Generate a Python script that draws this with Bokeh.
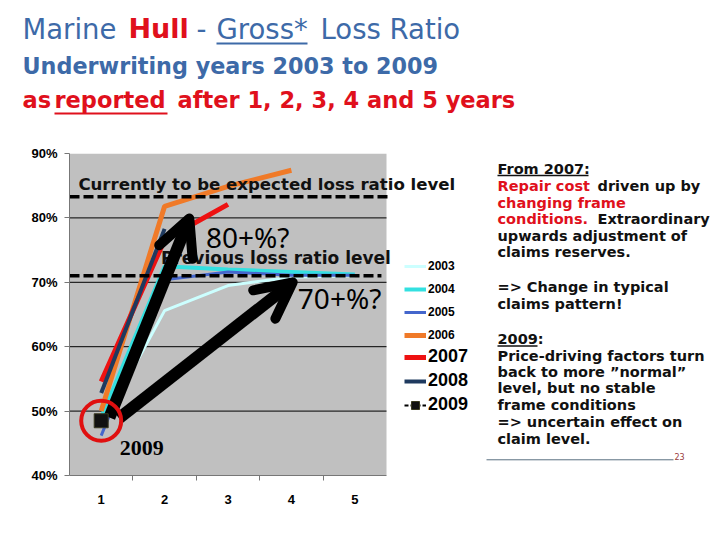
from bokeh.plotting import figure
from bokeh.layouts import column, row
from bokeh.models import (FixedTicker, PrintfTickFormatter, Label, Arrow, OpenHead,
                          Legend, LegendItem, BoxAnnotation)
from bokeh.core.properties import value
from bokeh.embed import file_html
from bokeh.resources import INLINE

# ---------------- data ----------------
dev_years = [1, 2, 3, 4, 5]
x_tick_labels = ["1", "2", "3", "4", "5"]
y_ticks = [40, 50, 60, 70, 80, 90]
grid_levels = [50, 60, 70, 80]
uw_years = ["2003", "2004", "2005", "2006", "2007", "2008", "2009"]
lr_2003 = [47.5, 65.6, 69.5, 70.8, 71.0]
lr_2004 = [49.0, 72.5, 72.0, 71.6, 71.2]
lr_2005 = [46.2, 70.4, 71.6, 71.1, 71.1]
lr_2006 = [50.0, 81.8, 84.9, 87.4]
lr_2007 = [54.6, 76.6, 82.1]
lr_2008 = [52.8, 78.3]
lr_2009 = [48.5]
expected_level = 83.3
previous_level = 71.0

series = [lr_2003, lr_2004, lr_2005, lr_2006, lr_2007, lr_2008, lr_2009]
colors = ["#ccffff", "#33e0e0", "#4466cc", "#f07a28", "#ee1111", "#1f3a5f", "#000000"]
widths = [3, 4, 3, 5, 5, 4, 2]

# annotation arrows (start x, start y, end x, end y)
arrow_a = (1.13, 49.0, 2.39, 79.9)
arrow_b = (1.28, 48.9, 4.02, 70.0)

BLUE = "#3d6aa8"
RED = "#e0101c"
BLACK = "#111111"
SANS = "DejaVu Sans"

# ---------------- title figure ----------------
t = figure(width=720, height=130, x_range=(0, 720), y_range=(130, 0),
           output_backend="svg", toolbar_location=None,
           x_axis_location=None, y_axis_location=None, min_border=0)
t.outline_line_color = None
t.grid.visible = False

title_parts = [
    # text, x, y, size, style, color
    ("Marine", 22, 28, "27.5px", "normal", BLUE),
    ("Hull", 128, 28, "27px", "bold", RED),
    ("-", 196, 28, "27.5px", "normal", BLUE),
    ("Gross*", 216, 28, "27.5px", "normal", BLUE),
    ("Loss Ratio", 320, 28, "27.5px", "normal", BLUE),
    ("Underwriting years 2003 to 2009", 22, 65, "22.3px", "bold", BLUE),
    ("as", 22, 99, "22.5px", "bold", RED),
    ("reported", 54, 99, "22.5px", "bold", RED),
    ("after 1, 2, 3, 4 and 5 years", 177, 99, "22.5px", "bold", RED),
]
for txt, x, y, sz, st, col in title_parts:
    t.text(x=[x], y=[y], text=[txt], text_font=value(SANS), text_font_size=value(sz),
           text_font_style=st, text_color=col, text_baseline="middle", text_align="left")
t.segment(x0=[216, 54], y0=[43, 113], x1=[307, 167], y1=[43, 113],
          line_color=[BLUE, RED], line_width=2)

# ---------------- chart figure ----------------
# frame spans from the plot's left edge to the right edge of this figure;
# the grey plotting area itself covers development years 0.5 .. 5.5
x_lo, x_hi = 0.5, 5.5
x_frame_hi = x_lo + (480 - 69) / 63.4
p = figure(width=480, height=410, x_range=(x_lo, x_frame_hi), y_range=(40, 90),
           output_backend="svg", toolbar_location=None,
           min_border_left=69, min_border_right=0, min_border_top=23, min_border_bottom=65)
p.background_fill_color = "white"
p.border_fill_color = "white"
p.outline_line_color = None
p.grid.visible = False
p.add_layout(BoxAnnotation(left=x_lo, right=x_hi, fill_color="#c0c0c0", fill_alpha=1,
                           line_color=None, level="underlay"))
p.segment(x0=[x_lo] * len(grid_levels), x1=[x_hi] * len(grid_levels),
          y0=grid_levels, y1=grid_levels, line_color="black", line_width=1)

p.yaxis.ticker = FixedTicker(ticks=y_ticks)
p.yaxis.formatter = PrintfTickFormatter(format="%d%%")
p.xaxis.ticker = FixedTicker(ticks=dev_years, minor_ticks=[1.5, 2.5, 3.5, 4.5])
p.xaxis.major_label_overrides = {d: l for d, l in zip(dev_years, x_tick_labels)}
p.xaxis.bounds = (x_lo, x_hi)
for ax in (p.xaxis, p.yaxis):
    ax.axis_line_color = "#777777"
    ax.major_label_text_font = "Liberation Sans"
    ax.major_label_text_font_style = "bold"
    ax.major_label_text_font_size = "13px"
    ax.major_label_text_color = "black"
p.yaxis.major_tick_in = 0
p.yaxis.major_tick_out = 5
p.yaxis.major_tick_line_color = "#777777"
p.yaxis.minor_tick_line_color = None
p.yaxis.major_label_standoff = 7
p.xaxis.major_tick_in = 0
p.xaxis.major_tick_out = 0
p.xaxis.minor_tick_in = 0
p.xaxis.minor_tick_out = 5
p.xaxis.minor_tick_line_color = "#777777"
p.xaxis.major_label_standoff = 14

renderers = []
for yr, vals, col, w in zip(uw_years, series, colors, widths):
    xs = dev_years[:len(vals)]
    if yr == "2009":
        r = p.line(xs, vals, line_color=col, line_width=w, line_dash="4 2")
        s = p.scatter(xs, vals, marker="square", size=14, fill_color="#111111",
                      line_color="#3a3a20", line_width=1, level="overlay")
        renderers.append([r, s])
    else:
        r = p.line(xs, vals, line_color=col, line_width=w)
        renderers.append([r])

# dashed level lines
p.line([0.5, 5.52], [expected_level, expected_level], line_color="black", line_width=3.5, line_dash="10 4")
p.line([0.5, 5.42], [previous_level, previous_level], line_color="black", line_width=3.5, line_dash="10 4")

# texts
p.add_layout(Label(x=0.64, y=85.2, text="Currently to be expected loss ratio level",
                   text_font=SANS, text_font_style="bold", text_font_size="16.6px",
                   text_baseline="middle", text_align="left", text_color=BLACK))
p.add_layout(Label(x=5.57, y=73.7, text="Previous loss ratio level",
                   text_font=SANS, text_font_style="bold", text_font_size="17px",
                   text_baseline="middle", text_align="right", text_color=BLACK))
p.add_layout(Label(x=3.31, y=77.0, text="80+%?", text_font="Noto Sans", text_font_size="28px",
                   text_baseline="middle", text_align="center", text_color="black"))
p.add_layout(Label(x=4.76, y=67.6, text="70+%?", text_font="Noto Sans", text_font_size="28px",
                   text_baseline="middle", text_align="center", text_color="black"))
p.add_layout(Label(x=1.64, y=44.3, text="2009", text_font="Liberation Serif",
                   text_font_size="22px", text_font_style="bold", text_baseline="middle",
                   text_align="center", text_color="black"))

# arrows
for (xs0, ys0, xe, ye) in (arrow_a, arrow_b):
    p.add_layout(Arrow(end=OpenHead(line_width=10, size=36, line_color="black", line_cap="round",
                                    line_join="round"),
                       x_start=xs0, y_start=ys0, x_end=xe, y_end=ye,
                       line_width=12, line_color="black"))

# red circle around 2009
p.scatter([dev_years[0]], [lr_2009[0]], marker="circle", size=40, fill_alpha=0,
          line_color="#e01010", line_width=4, level="overlay")

# legends
leg_common = dict(glyph_width=22, glyph_height=20, label_height=20, spacing=3, padding=0,
                  margin=0, label_standoff=2, border_line_color=None, background_fill_alpha=0,
                  label_text_font="Liberation Sans", label_text_font_style="bold",
                  label_text_color="black")
leg1 = Legend(items=[LegendItem(label=uw_years[i], renderers=renderers[i]) for i in range(4)],
              location=(335, 130), label_text_font_size="12px", **leg_common)
leg2 = Legend(items=[LegendItem(label=uw_years[i], renderers=renderers[i]) for i in range(4, 7)],
              location=(335, 60), label_text_font_size="18px", **leg_common)
p.add_layout(leg1)
p.add_layout(leg2)

# ---------------- right text figure ----------------
q = figure(width=240, height=410, x_range=(480, 720), y_range=(540, 130),
           output_backend="svg", toolbar_location=None,
           x_axis_location=None, y_axis_location=None, min_border=0)
q.outline_line_color = None
q.grid.visible = False

right_parts = [
    ("From 2007:", 497, 150, BLACK),
    ("Repair cost", 497, 171.5, RED),
    ("driven up by", 597, 171.5, BLACK),
    ("changing frame", 497, 192.5, RED),
    ("conditions.", 497, 214, RED),
    ("Extraordinary", 597, 214, BLACK),
    ("upwards adjustment of", 497, 235, BLACK),
    ("claims reserves.", 497, 256, BLACK),
    ("=> Change in typical", 497, 300.5, BLACK),
    ("claims pattern!", 497, 321.5, BLACK),
    ("2009:", 497, 366.5, BLACK),
    ("Price-driving factors turn", 497, 387.5, BLACK),
    ("back to more \u201dnormal\u201d", 497, 408, BLACK),
    ("level, but no stable", 497, 429, BLACK),
    ("frame conditions", 497, 450, BLACK),
    ("=> uncertain effect on", 497, 471.5, BLACK),
    ("claim level.", 497, 493, BLACK),
]
for txt, x, y, col in right_parts:
    q.text(x=[x], y=[y], text=[txt], text_font=value(SANS), text_font_size=value("14.5px"),
           text_font_style="bold", text_color=col, text_baseline="middle", text_align="left")
q.segment(x0=[497, 497], y0=[158, 375], x1=[588, 537], y1=[158, 375],
          line_color=BLACK, line_width=1.5)
q.segment(x0=[486], y0=[520], x1=[673], y1=[520], line_color="#5a7080", line_width=1)
q.text(x=[674], y=[516], text=["23"], text_font=value("DejaVu Sans"), text_font_size=value("8px"),
       text_color="#9a3a3a", text_baseline="middle", text_align="left")

layout = column(t, row(p, q))
open("out.html", "w").write(file_html(layout, INLINE))
